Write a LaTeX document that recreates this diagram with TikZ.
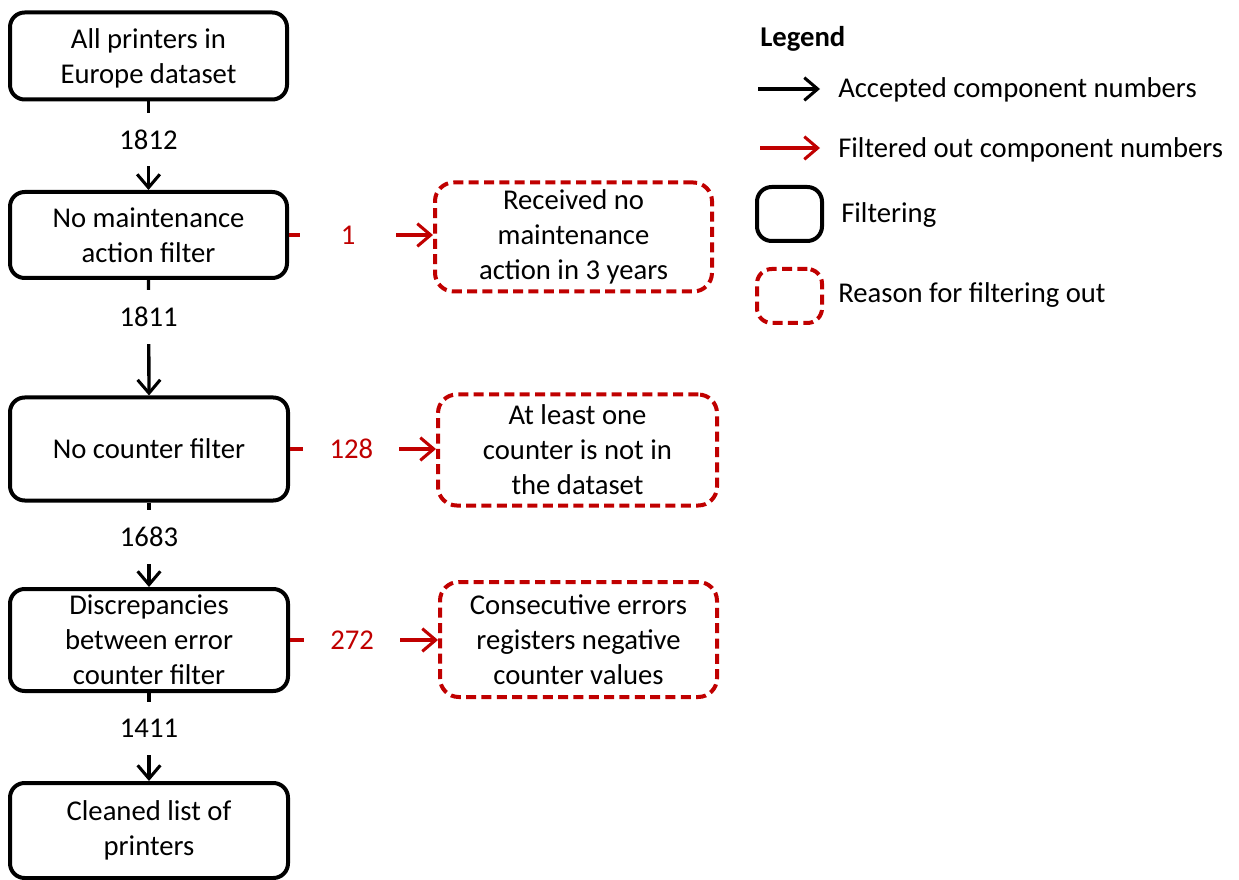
\documentclass[tikz,border=0pt]{standalone}
\usepackage{fontspec}
\setmainfont{Carlito}
\usetikzlibrary{arrows.meta}
\definecolor{fred}{RGB}{192,0,0}
\begin{document}
\begin{tikzpicture}[x=0.75pt,y=-0.75pt,
  every node/.style={font=\fontsize{21.5}{26.3}\selectfont},
  filt/.style={draw=black, line width=3pt, rounded corners=11pt, align=center, inner sep=0pt},
  reason/.style={draw=fred, line width=3pt, dash pattern=on 7.5pt off 4pt, rounded corners=14pt, align=center, inner sep=0pt},
  acc/.style={draw=black, line width=2.5pt, -{Straight Barb[length=10pt,width=17pt,line width=2.3pt]}},
  rej/.style={draw=fred, line width=2.5pt, -{Straight Barb[length=10pt,width=17pt,line width=2.3pt]}},
  lbl/.style={fill=white, inner sep=0pt, minimum height=40pt},
  rlbl/.style={fill=white, text=fred, inner sep=0pt, minimum height=20pt, minimum width=72pt},
  legtext/.style={anchor=west, inner sep=0pt}
]
\useasboundingbox (0,0) rectangle (1239,880);

% filtering steps
\node[filt, minimum width=207.75pt, minimum height=65.25pt] (b1) at (148.5,56) {\strut All printers in\\Europe dataset};
\node[filt, minimum width=207.75pt, minimum height=64.5pt] (b2) at (148.5,235) {No maintenance\\action filter};
\node[filt, minimum width=208.5pt, minimum height=77.25pt] (b3) at (149,449) {No counter filter};
\node[filt, minimum width=208.5pt, minimum height=76.5pt] (b4) at (149,640) {Discrepancies\\between error\\counter filter};
\node[filt, minimum width=208.5pt, minimum height=71.25pt] (b5) at (149,830.5) {Cleaned list of\\printers};

% reasons for filtering out
\node[reason, minimum width=207.75pt, minimum height=81.75pt] (r1) at (573.5,237) {Received no\\maintenance\\action in 3 years};
\node[reason, minimum width=209.25pt, minimum height=83.25pt] (r2) at (577.5,450) {At least one\\counter is not in\\the dataset};
\node[reason, minimum width=207.75pt, minimum height=86.25pt] (r3) at (578.5,639.5) {Consecutive errors\\registers negative\\counter values};

% accepted counts
\draw[acc] (b1.south) -- node[lbl, pos=0.43] {1812} (b2.north);
\draw[acc] (b2.south) -- node[lbl, pos=0.32] {1811} (b3.north);
\draw[acc] (b3.south) -- node[lbl, pos=0.41] {1683} (b4.north);
\draw[acc] (b4.south) -- node[lbl, pos=0.40] {1411} (b5.north);

% filtered out counts
\draw[rej] (b2.east) -- node[rlbl, pos=0.41] {1} (b2.east -| r1.west);
\draw[rej] (b3.east) -- node[rlbl, pos=0.42] {128} (b3.east -| r2.west);
\draw[rej] (b4.east) -- node[rlbl, pos=0.42] {272} (b4.east -| r3.west);

% legend
\node[legtext, font=\fontsize{21.5}{26.3}\selectfont\bfseries] (lg) at (760,39) {Legend};
\coordinate (la1) at (758,89);
\coordinate (la2) at (820,89);
\draw[acc] (la1) -- (la2);
\node[legtext] (lt1) at (838,90) {Accepted component numbers};
\coordinate (lr1) at (760,148);
\coordinate (lr2) at (820,148);
\draw[rej] (lr1) -- (lr2);
\node[legtext] (lt2) at (838,150) {Filtered out component numbers};
\node[filt, minimum width=48.75pt, minimum height=40.5pt] (lb1) at (789.5,214) {};
\node[legtext] (lt3) at (841,215) {Filtering};
\node[reason, rounded corners=11pt, minimum width=48.75pt, minimum height=40.5pt] (lb2) at (789.5,296) {};
\node[legtext] (lt4) at (838,295) {Reason for filtering out};
\end{tikzpicture}
\end{document}
